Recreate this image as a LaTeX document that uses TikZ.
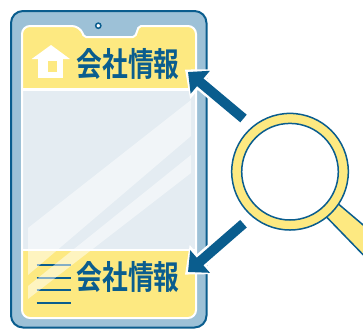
\documentclass[tikz,border=0pt]{standalone}
\usepackage{fontspec}
\newfontfamily\jpfont{Noto Sans CJK JP}[BoldFont={* Bold},FakeStretch=0.78]
\usetikzlibrary{arrows.meta}
\definecolor{navy}{HTML}{0A5D8E}
\definecolor{frame}{HTML}{9DC1D7}
\definecolor{pale}{HTML}{FDE981}
\definecolor{glass}{HTML}{E4ECF2}

\def\screenshape{(22,60) [rounded corners=8pt] -- (22,26) -- (80,26) [rounded corners=2pt] -- (84,37) -- (135,37) -- (139,26) [rounded corners=8pt] -- (196,26) -- (196,318) -- (22,318) -- cycle}

\begin{document}
\begin{tikzpicture}[x=1pt,y=-1pt,
	infotext/.style={font=\jpfont\bfseries\fontsize{33}{33}\selectfont,text=navy,inner sep=0pt},
	pointer/.style={line width=10pt,navy,-{Triangle[length=16pt,width=29pt]}},
	halo/.style={line width=15pt,white,shorten >=-4pt,-{Triangle[length=23pt,width=37pt]}},
	menuline/.style={line width=2pt,navy},
	shine/.style={fill=white,opacity=0.5}]
	\useasboundingbox (0,0) rectangle (363,330);
	% phone
	\draw[fill=frame,draw=navy,line width=2pt,rounded corners=12pt] (11,11) rectangle (206.5,327.5);
	\begin{scope}
		\clip \screenshape;
		\fill[glass] (0,0) rectangle (220,330);
		\fill[pale] (0,0) rectangle (220,88.5);
		\fill[pale] (0,251) rectangle (220,330);
		\draw[white,line width=2.5pt] (0,89.5) -- (220,89.5) (0,250) -- (220,250);
		% home icon
		\fill[white] (31.7,59) -- (51,45) -- (70,59) -- cycle;
		\fill[white] (38.3,58) rectangle (62.7,77.7);
		\fill[pale] (47.7,61) rectangle (56.7,72.3);
		% menu icon
		\foreach \y in {265,277.7,290.3,303}
			\draw[menuline] (36.7,\y) -- (71,\y);
		% glass reflections
		\fill[shine] (28,228) -- (191,100) -- (191,136) -- (28,275) -- cycle;
		\fill[shine] (28,286) -- (191,155) -- (191,173) -- (28,299) -- cycle;
	\end{scope}
	\draw[white,line width=2pt] \screenshape;
	\draw[navy,fill=white,line width=1.5pt] (98.3,25.7) circle (2.6pt);
	\node[infotext] (infotop) at (128,63.5) {会社情報};
	\node[infotext] (infobottom) at (128,276.7) {会社情報};
	% magnifier
	\coordinate (lens) at (290,171.7);
	\draw[fill=pale,draw=navy,line width=1.5pt] (320,188.4) -- (375,235) -- (375,267) -- (315,205.1) -- cycle;
	\draw[fill=pale,draw=navy,line width=1.5pt] (lens) circle (58.3pt);
	\draw[fill=white,draw=navy,line width=1.5pt] (lens) circle (48.3pt);
	% arrows
	\coordinate (tailtop) at (243.5,118.5);
	\coordinate (tiptop) at (188,72);
	\coordinate (tailbottom) at (243.5,223.7);
	\coordinate (tipbottom) at (188,272);
	\draw[halo] (tailtop) -- (tiptop);
	\draw[pointer] (tailtop) -- (tiptop);
	\draw[halo] (tailbottom) -- (tipbottom);
	\draw[pointer] (tailbottom) -- (tipbottom);
\end{tikzpicture}
\end{document}
